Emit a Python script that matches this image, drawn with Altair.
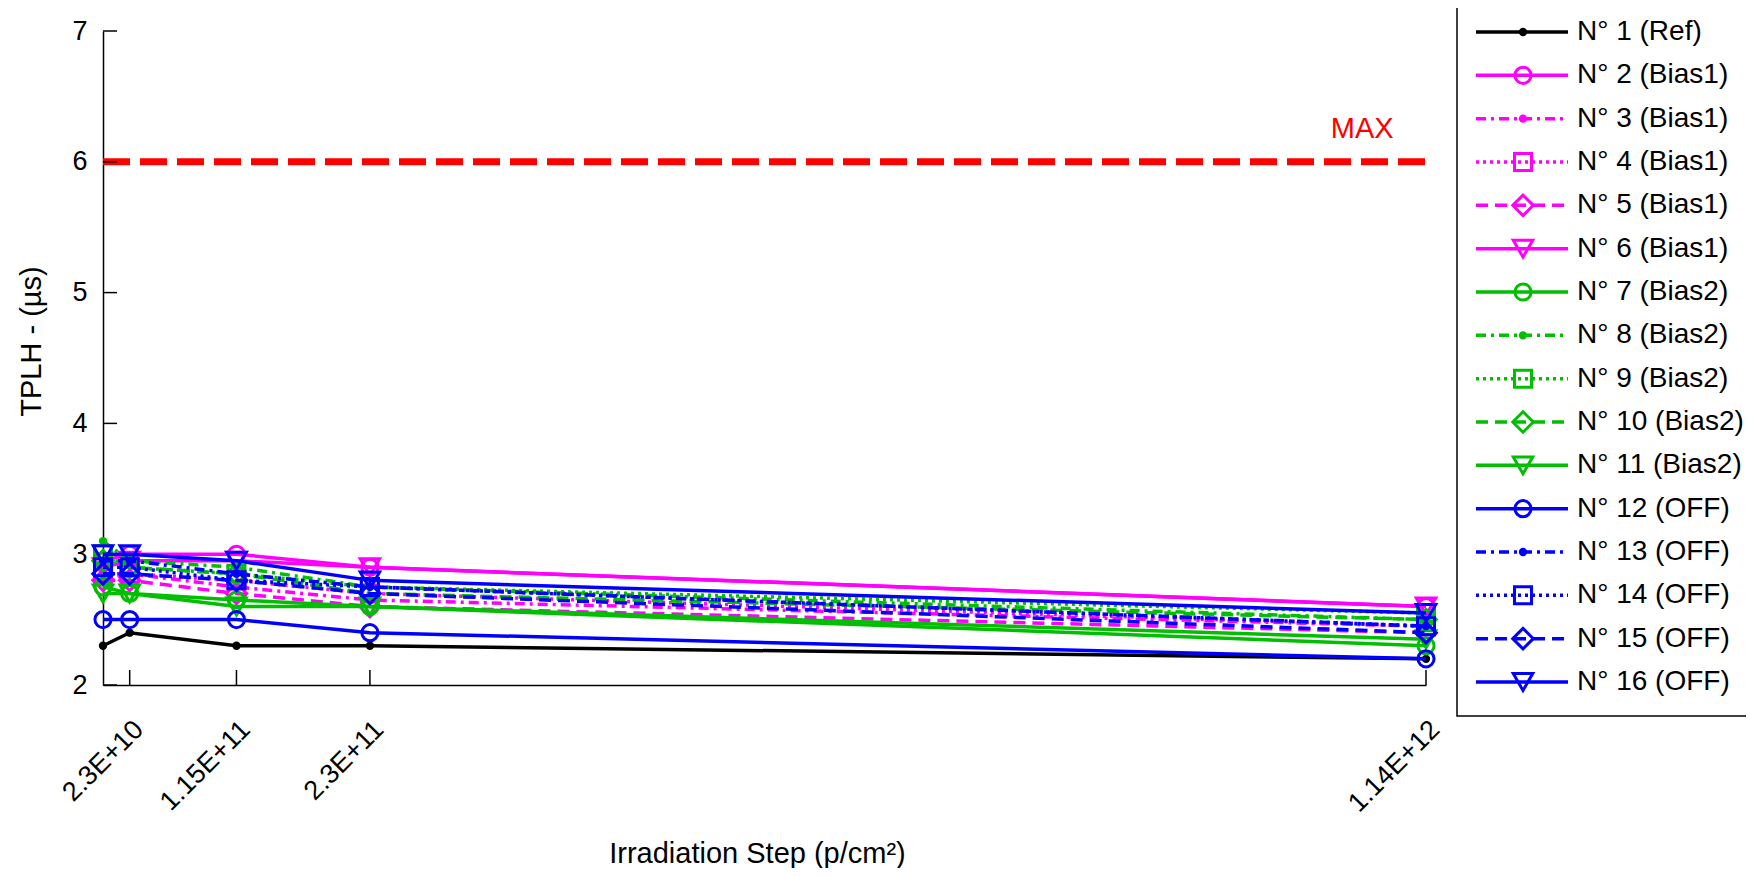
import altair as alt
import pandas as pd

# ---------------- data ----------------
x_steps = [0, 2.3e10, 1.15e11, 2.3e11, 1.14e12]
xtick_values = [2.3e10, 1.15e11, 2.3e11, 1.14e12]
xtick_labels = ["2.3E+10", "1.15E+11", "2.3E+11", "1.14E+12"]
ytick_values = [2, 3, 4, 5, 6, 7]

series_names = [
    "N° 1 (Ref)", "N° 2 (Bias1)", "N° 3 (Bias1)", "N° 4 (Bias1)", "N° 5 (Bias1)",
    "N° 6 (Bias1)", "N° 7 (Bias2)", "N° 8 (Bias2)", "N° 9 (Bias2)", "N° 10 (Bias2)",
    "N° 11 (Bias2)", "N° 12 (OFF)", "N° 13 (OFF)", "N° 14 (OFF)", "N° 15 (OFF)",
    "N° 16 (OFF)",
]

s1 = [2.3, 2.4, 2.3, 2.3, 2.2]
s2 = [2.95, 3.0, 3.0, 2.9, 2.6]
s3 = [2.8, 2.85, 2.75, 2.65, 2.45]
s4 = [2.85, 2.85, 2.8, 2.7, 2.45]
s5 = [2.8, 2.8, 2.7, 2.6, 2.4]
s6 = [2.9, 2.95, 2.95, 2.9, 2.6]
s7 = [2.75, 2.7, 2.65, 2.6, 2.3]
s8 = [3.1, 2.95, 2.9, 2.75, 2.5]
s9 = [3.0, 2.9, 2.85, 2.75, 2.55]
s10 = [2.95, 2.9, 2.85, 2.7, 2.5]
s11 = [2.7, 2.7, 2.6, 2.6, 2.35]
s12 = [2.5, 2.5, 2.5, 2.4, 2.2]
s13 = [2.95, 2.95, 2.85, 2.75, 2.45]
s14 = [2.9, 2.9, 2.8, 2.75, 2.45]
s15 = [2.85, 2.85, 2.8, 2.7, 2.4]
s16 = [3.0, 3.0, 2.95, 2.8, 2.55]
series_values = [s1, s2, s3, s4, s5, s6, s7, s8, s9, s10, s11, s12, s13, s14, s15, s16]

max_level = [6, 6]
max_x = [0, 1.14e12]
max_label = "MAX"
max_label_pos = [1.085e12, 6.25]

# ---------------- styles ----------------
BLACK, MAG, GRN, BLU = "#000000", "#FF00FF", "#00BF00", "#0000FF"
series_colors = [BLACK] + [MAG] * 5 + [GRN] * 5 + [BLU] * 5
group_styles = ["solid", "dashdot", "dotted", "dashed", "solid"]
group_markers = ["circle", "point", "square", "diamond", "triangle-down"]
series_styles = ["solid"] + group_styles * 3
series_markers = ["point"] + group_markers * 3

dash_of = {"solid": [1, 0], "dashdot": [10, 5, 3, 5], "dotted": [3, 4], "dashed": [12, 7]}
size_of = {"circle": 260, "square": 290, "diamond": 420, "triangle-down": 380, "point": 70}

FONT = "Liberation Sans"
W, H = 1323, 654
LINE_W = 3.5
MARK_W = 3

rows = []
for i, (n, vals) in enumerate(zip(series_names, series_values)):
    for xv, yv in zip(x_steps, vals):
        rows.append({"sid": i, "name": n, "x": xv, "y": yv})
df = pd.DataFrame(rows)

label_expr = " : ".join(
    f"abs(datum.value - {v!r}) < 1e6 ? '{l}'" for v, l in zip(xtick_values, xtick_labels)
) + " : ''"

xscale = alt.Scale(domain=[0, 1.14e12], nice=False, zero=False)
yscale = alt.Scale(domain=[2, 7], nice=False, zero=False)
xaxis = alt.Axis(
    values=xtick_values, labelExpr=label_expr, labelAngle=315, labelAlign="right",
    labelBaseline="middle", labelPadding=40, labelOffset=9, ticks=False, tickSize=0,
    grid=False, domainColor="black", domainWidth=1.5, labelFont=FONT, labelFontSize=27,
    labelColor="black", labelOverlap=False, labelFlush=False,
    title="Irradiation Step (p/cm²)", titleFont=FONT, titleFontSize=29,
    titleFontWeight="normal", titleColor="black", titleX=654, titleY=168,
    titleAlign="center", titleBaseline="middle",
)
yaxis = alt.Axis(
    values=ytick_values, format="d", ticks=False, tickSize=0, labelPadding=16,
    grid=False, domainColor="black", domainWidth=1.5, labelFont=FONT, labelFontSize=27,
    labelColor="black", labelOverlap=False, labelFlush=False,
    title="TPLH - (µs)", titleFont=FONT, titleFontSize=29, titleFontWeight="normal",
    titleColor="black", titleX=-72, titleY=310, titleAngle=270, titleAlign="center",
    titleBaseline="middle",
)


def X(field):
    return alt.X(field, type="quantitative", scale=xscale, axis=xaxis)


def Y(field):
    return alt.Y(field, type="quantitative", scale=yscale, axis=yaxis)


def marker(chart_data, mk, color):
    if mk == "point":
        return alt.Chart(chart_data).mark_point(filled=True, shape="circle", size=size_of[mk],
                                                color=color, opacity=1)
    return alt.Chart(chart_data).mark_point(filled=False, shape=mk, size=size_of[mk],
                                            color=color, strokeWidth=MARK_W, opacity=1)


layers = []

# MAX line and label
max_df = pd.DataFrame({"x0": [max_x[0]], "x1": [max_x[1]], "y": [max_level[0]]})
layers.append(
    alt.Chart(max_df).mark_rule(color="#FF0000", strokeWidth=7, strokeDash=[27, 10], strokeCap="butt")
    .encode(x=X("x0"), x2="x1:Q", y=Y("y"))
)
lab_df = pd.DataFrame({"x": [max_label_pos[0]], "y": [max_label_pos[1]], "t": [max_label]})
layers.append(
    alt.Chart(lab_df).mark_text(color="#FF0000", font=FONT, fontSize=29, align="center", baseline="middle")
    .encode(x=X("x"), y=Y("y"), text="t:N")
)

# inward ticks
xt_df = pd.DataFrame({"v": xtick_values})
layers.append(
    alt.Chart(xt_df).mark_rule(color="black", strokeWidth=1.5)
    .encode(x=X("v"), y=alt.value(H), y2=alt.value(H - 15))
)
yt_df = pd.DataFrame({"v": ytick_values})
layers.append(
    alt.Chart(yt_df).mark_rule(color="black", strokeWidth=1.5)
    .encode(y=Y("v"), x=alt.value(0), x2=alt.value(14))
)

# series: line + markers in drawing order
for i, n in enumerate(series_names):
    sub = df[df["sid"] == i]
    st = series_styles[i]
    lkw = dict(color=series_colors[i], strokeWidth=LINE_W)
    if st != "solid":
        lkw["strokeDash"] = dash_of[st]
    layers.append(alt.Chart(sub).mark_line(**lkw).encode(x=X("x"), y=Y("y"), order="x:Q"))
    layers.append(marker(sub, series_markers[i], series_colors[i]).encode(x=X("x"), y=Y("y")))

main = alt.layer(*layers)

# ---------------- legend ----------------
leg_df = pd.DataFrame({
    "idx": list(range(len(series_names))),
    "name": series_names,
})
lscale = alt.Scale(domain=[0, 15], range=[1, 651], nice=False, zero=False)
LY = alt.Y("idx:Q", scale=lscale, axis=None)

leg_layers = [
    alt.Chart(pd.DataFrame({"a": [0]})).mark_rect(fill="white", stroke="black", strokeWidth=1.5)
    .encode(x=alt.value(1354), x2=alt.value(1720), y=alt.value(-24), y2=alt.value(685))
]
for i, n in enumerate(series_names):
    sub = leg_df[leg_df["idx"] == i]
    st = series_styles[i]
    lkw = dict(color=series_colors[i], strokeWidth=LINE_W)
    if st != "solid":
        lkw["strokeDash"] = dash_of[st]
    leg_layers.append(alt.Chart(sub).mark_rule(**lkw).encode(
        x=alt.value(1373), x2=alt.value(1465), y=LY))
    leg_layers.append(marker(sub, series_markers[i], series_colors[i]).encode(x=alt.value(1420), y=LY))
leg_layers.append(
    alt.Chart(leg_df).mark_text(align="left", baseline="middle", font=FONT, fontSize=28, color="black")
    .encode(x=alt.value(1474), y=LY, text="name:N")
)
legend = alt.layer(*leg_layers)

chart = (
    alt.layer(main, legend)
    .resolve_scale(y="independent")
    .properties(
        width=W, height=H,
        autosize=alt.AutoSizeParams(type="none"),
        padding={"left": 95, "top": 23, "right": 320, "bottom": 183},
        background="white",
    )
    .configure_view(stroke=None)
)

chart.save("out.html", embed_options={"renderer": "svg", "actions": False})
